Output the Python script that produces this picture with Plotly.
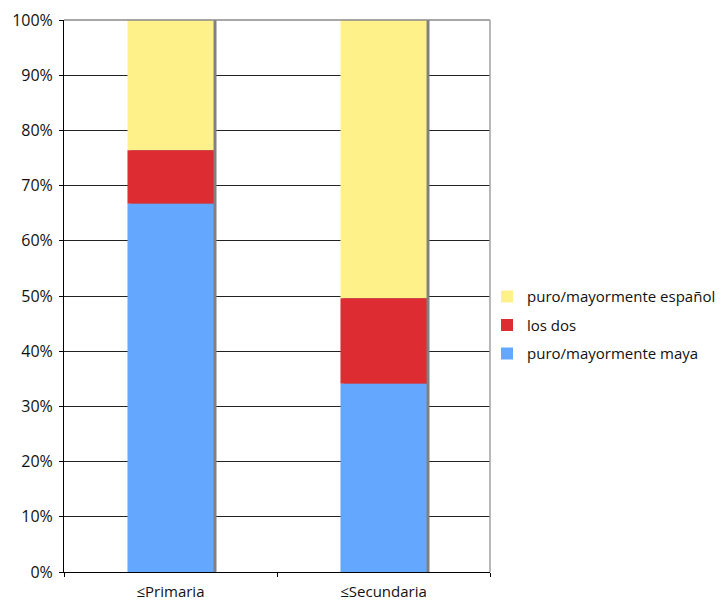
import plotly.graph_objects as go

# Education level categories and share (%) of each self-identified language background
categories = ["≤Primaria", "≤Secundaria"]
maya = [66.7, 34.1]
los_dos = [9.7, 15.5]
espanol = [23.6, 50.4]

series_names = ["puro/mayormente maya", "los dos", "puro/mayormente español"]
colors = ["#63A7FF", "#DD2C32", "#FFF18A"]

bar_w = 0.404
shadow_shift = 0.014  # small offset to the right for the drop shadow

totals = [a + b + c for a, b, c in zip(maya, los_dos, espanol)]
base_red = maya
base_yellow = [a + b for a, b in zip(maya, los_dos)]

fig = go.Figure()

# drop shadow behind each stacked column
fig.add_trace(go.Bar(
    x=categories, y=totals, base=[0, 0], width=bar_w,
    offset=-bar_w / 2 + shadow_shift,
    marker=dict(color="#808080", line=dict(width=0)),
    showlegend=False, hoverinfo="skip",
))

# segments stacked via explicit bases; listed top segment first so the legend reads top-down
for name, vals, base, col in [
    (series_names[2], espanol, base_yellow, colors[2]),
    (series_names[1], los_dos, base_red, colors[1]),
    (series_names[0], maya, [0, 0], colors[0]),
]:
    fig.add_trace(go.Bar(
        x=categories, y=vals, base=base, width=bar_w, offset=-bar_w / 2,
        name=name, legendgroup=name,
        marker=dict(color=col, line=dict(width=0)),
    ))

font_family = "Open Sans, Lato, sans-serif"

fig.update_layout(
    width=726, height=605,
    margin=dict(l=64, r=236, t=20, b=33, autoexpand=False),
    barmode="overlay",
    paper_bgcolor="white", plot_bgcolor="white",
    font=dict(family=font_family, size=15, color="#111"),
    showlegend=True,
    legend=dict(
        x=0.993, y=0.447, xanchor="left", yanchor="middle",
        traceorder="grouped", tracegroupgap=6,
        font=dict(size=15, color="#111"),
        bgcolor="rgba(0,0,0,0)",
    ),
    xaxis=dict(
        range=[-0.5, 1.5],
        showline=True, linecolor="#000", linewidth=1,
        ticks="outside", ticklen=4, tickcolor="#000", tickson="boundaries",
        showgrid=False, tickfont=dict(size=15), ticklabelstandoff=6,
    ),
    yaxis=dict(
        range=[0, 100], dtick=10, ticksuffix="%",
        showline=True, linecolor="#000", linewidth=1,
        ticks="outside", ticklen=4, tickcolor="#000",
        showgrid=True, gridcolor="#222", gridwidth=1,
        zeroline=False, tickfont=dict(size=16), ticklabelstandoff=3,
    ),
    shapes=[
        dict(type="line", xref="paper", yref="paper", x0=0, x1=1, y0=1, y1=1,
             line=dict(color="#8a8a8a", width=1.5)),
        dict(type="line", xref="paper", yref="paper", x0=1, x1=1, y0=0, y1=1,
             line=dict(color="#a0a0a0", width=1.5)),
    ],
)

fig.write_html("out.html")
